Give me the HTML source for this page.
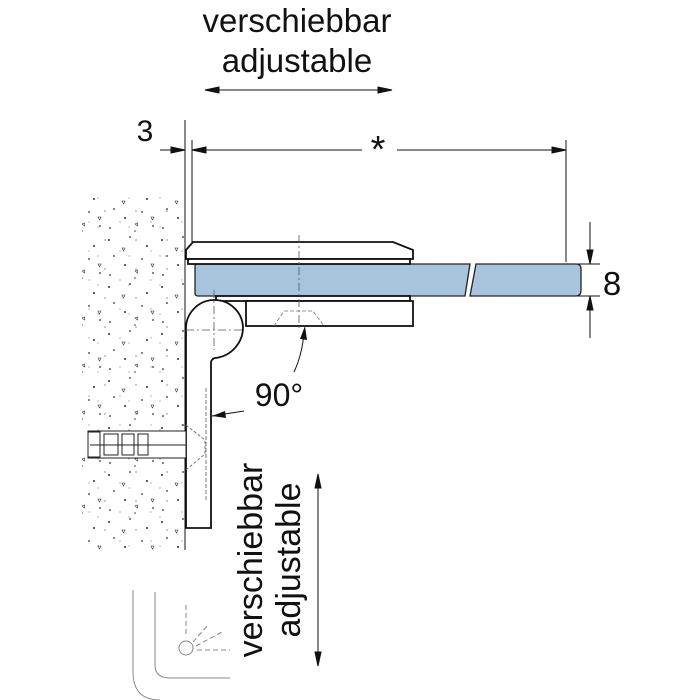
<!DOCTYPE html>
<html><head><meta charset="utf-8"><style>
html,body{margin:0;padding:0;background:#fff;}
svg{display:block;}
text{font-family:"Liberation Sans",sans-serif;fill:#111;}
</style></head><body>
<svg width="700" height="700" viewBox="0 0 700 700" xmlns="http://www.w3.org/2000/svg">
<defs>
<pattern id="sp" width="53" height="47" patternUnits="userSpaceOnUse">
<g fill="#333" stroke="#333" stroke-width="0.6">
<circle cx="3" cy="5" r="0.7"/><circle cx="24" cy="2" r="0.6"/><circle cx="41" cy="11" r="0.7"/>
<circle cx="8" cy="21" r="0.6"/><circle cx="36" cy="24" r="0.6"/><circle cx="19" cy="30" r="0.7"/>
<circle cx="4" cy="40" r="0.6"/><circle cx="47" cy="38" r="0.6"/><circle cx="29" cy="43" r="0.5"/>
<path d="M16 13 l3 0 l-1.5 3z" fill="none"/><path d="M45 29 l3 0 l-1.5 3z" fill="none"/><path d="M29 36 l2.5 -1 l0 3z" fill="none"/>
</g></pattern>
<pattern id="sp2" width="31" height="29" patternUnits="userSpaceOnUse">
<g fill="#444"><circle cx="12" cy="8" r="0.6"/><circle cx="27" cy="19" r="0.5"/><circle cx="5" cy="24" r="0.5"/></g>
</pattern>
</defs>
<rect x="82" y="195" width="102" height="355" fill="url(#sp)"/>
<rect x="82" y="195" width="102" height="355" fill="url(#sp2)"/>
<text x="297" y="32" font-size="33" text-anchor="middle">verschiebbar</text>
<text x="297" y="72" font-size="33" text-anchor="middle">adjustable</text>
<g stroke="#111" stroke-width="1" fill="#111">
<line x1="205" y1="90" x2="392" y2="90"/>
<path d="M205 90 l14 -3 v6z"/><path d="M392 90 l-14 -3 v6z"/>
</g>
<text x="145" y="141" font-size="30" text-anchor="middle">3</text>
<text x="378" y="162" font-size="38" text-anchor="middle">*</text>
<g stroke="#111" stroke-width="1" fill="#111">
<line x1="185" y1="120" x2="185" y2="550"/>
<line x1="192" y1="140" x2="192" y2="245"/>
<line x1="566" y1="140" x2="566" y2="262"/>
<line x1="160" y1="150" x2="185" y2="150"/><path d="M185 150 l-14 -3 v6z"/>
<line x1="192" y1="150" x2="362" y2="150"/><path d="M192 150 l14 -3 v6z"/>
<line x1="397" y1="150" x2="566" y2="150"/><path d="M566 150 l-14 -3 v6z"/>
<line x1="568" y1="264" x2="600" y2="264"/><line x1="568" y1="296" x2="600" y2="296"/>
<line x1="590" y1="222" x2="590" y2="264"/><path d="M590 264 l-3 -14 h6z"/>
<line x1="590" y1="296" x2="590" y2="338"/><path d="M590 296 l-3 14 h6z"/>
</g>
<text x="612" y="295" font-size="33" text-anchor="middle">8</text>
<path d="M195 266 q0 -2 3 -2 H470 L465 296 H198 q-3 0 -3 -3z" fill="#a7c4dc" stroke="#222" stroke-width="1.3"/>
<path d="M476 264 H576 q5 0 5 5 V290 q0 6 -5 6 H470z" fill="#a7c4dc" stroke="#222" stroke-width="1.3"/>
<g fill="#fff" stroke="#111" stroke-width="1.8">
<path d="M186 250 L193 242 H393 L413 250 V259 H186z"/>
<rect x="188" y="259" width="222" height="5"/>
<rect x="216" y="296" width="194" height="5"/>
<rect x="246" y="301" width="167" height="25"/>
<path d="M186 528 V330 A28 28 0 0 1 243 327 A31 31 0 0 1 215 358 Q211 359 211 363 V528z"/>
</g>
<g stroke="#555" stroke-width="0.8" fill="none" stroke-dasharray="8 3 2 3">
<line x1="299" y1="235" x2="299" y2="330"/><line x1="214" y1="290" x2="214" y2="350"/><line x1="186" y1="330" x2="245" y2="330"/>
</g>
<path d="M274 326 L284 311 H313 L324 326" fill="none" stroke="#777" stroke-width="0.8" stroke-dasharray="4 2"/>
<path d="M206 388 V500" stroke="#777" stroke-dasharray="4 2" fill="none"/>
<path d="M294 372 Q302 355 304 333" fill="none" stroke="#111"/>
<path d="M305 326 l-5 13 l7 1z" fill="#111"/>
<text x="279" y="406" font-size="32" text-anchor="middle">90°</text>
<line x1="212" y1="416" x2="244" y2="411" stroke="#111"/><path d="M212 416 l13 -5 l1 7z" fill="#111"/>
<g fill="#fff" stroke="#222" stroke-width="1">
<rect x="88" y="431" width="98" height="27"/>
<rect x="88" y="432" width="12" height="25"/>
<path d="M104 434 h14 v21 h-14z M122 434 h12 v21 h-12z M138 434 h10 v21 h-10z"/>
<line x1="90" y1="445" x2="186" y2="445"/>
<path d="M186 425 L205 440 V454 L186 470" fill="none" stroke="#777" stroke-dasharray="3 2"/>
</g>
<text transform="translate(262,560) rotate(-90)" font-size="34" text-anchor="middle">verschiebbar</text>
<text transform="translate(300,560) rotate(-90)" font-size="34" text-anchor="middle">adjustable</text>
<g stroke="#111" fill="#111">
<line x1="318" y1="476" x2="318" y2="664"/>
<path d="M318 474 l-3 14 h6z"/><path d="M318 666 l-3 -14 h6z"/>
</g>
<g fill="none" stroke="#888" stroke-width="1">
<path d="M133 590 V672 Q133 700 160 700"/>
<path d="M155 592 V665 Q155 678 170 678 H230"/>
<circle cx="186" cy="648" r="7"/>
<path d="M186 605 V636 M193 642 L208 625 M196 646 L222 632 M197 650 H230" stroke-dasharray="5 3"/>
</g>
</svg>
</body></html>
